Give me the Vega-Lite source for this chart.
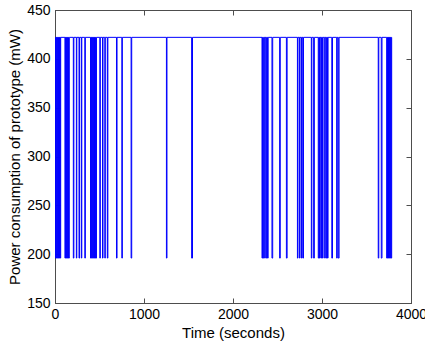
{
  "$schema": "https://vega.github.io/schema/vega-lite/v6.json",
  "width": 356,
  "height": 293,
  "autosize": "none",
  "padding": {"left": 55, "top": 10, "right": 14, "bottom": 40},
  "background": "white",
  "config": {
    "view": {"stroke": "#4d4d4d", "strokeWidth": 1},
    "font": "Liberation Sans",
    "axis": {
      "grid": false,
      "ticks": true,
      "domainColor": "#4d4d4d",
      "tickColor": "#4d4d4d",
      "tickSize": -5,
      "tickWidth": 1,
      "labelFont": "Liberation Sans",
      "labelFontSize": 14,
      "labelColor": "#000000",
      "titleFont": "Liberation Sans",
      "titleFontSize": 15,
      "titleFontWeight": "normal",
      "titleColor": "#000000"
    }
  },
  "data": {
    "values": [
      {"t": 0, "p": 196}, {"t": 5, "p": 422}, {"t": 10, "p": 196}, {"t": 15, "p": 422},
      {"t": 20, "p": 196}, {"t": 25, "p": 422}, {"t": 30, "p": 196}, {"t": 35, "p": 422},
      {"t": 40, "p": 196}, {"t": 45, "p": 422}, {"t": 50, "p": 196}, {"t": 55, "p": 422},
      {"t": 59, "p": 196}, {"t": 64, "p": 422},
      {"t": 112, "p": 196}, {"t": 117, "p": 422}, {"t": 122, "p": 196}, {"t": 127, "p": 422},
      {"t": 132, "p": 196}, {"t": 137, "p": 422}, {"t": 142, "p": 196}, {"t": 147, "p": 422},
      {"t": 152, "p": 196}, {"t": 161, "p": 422},
      {"t": 206, "p": 196}, {"t": 212, "p": 422},
      {"t": 240, "p": 196}, {"t": 245, "p": 422},
      {"t": 270, "p": 196}, {"t": 276, "p": 422},
      {"t": 296, "p": 196}, {"t": 301, "p": 422},
      {"t": 335, "p": 196}, {"t": 341, "p": 422},
      {"t": 399, "p": 196}, {"t": 404, "p": 422}, {"t": 409, "p": 196}, {"t": 414, "p": 422},
      {"t": 419, "p": 196}, {"t": 424, "p": 422}, {"t": 429, "p": 196}, {"t": 434, "p": 422},
      {"t": 439, "p": 196}, {"t": 444, "p": 422}, {"t": 449, "p": 196}, {"t": 454, "p": 422},
      {"t": 459, "p": 196}, {"t": 466, "p": 422},
      {"t": 504, "p": 196}, {"t": 509, "p": 422},
      {"t": 534, "p": 196}, {"t": 539, "p": 422},
      {"t": 560, "p": 196}, {"t": 565, "p": 422},
      {"t": 588, "p": 196}, {"t": 594, "p": 422},
      {"t": 691, "p": 196}, {"t": 697, "p": 422},
      {"t": 751, "p": 196}, {"t": 757, "p": 422},
      {"t": 855, "p": 196}, {"t": 862, "p": 422},
      {"t": 1252, "p": 196}, {"t": 1258, "p": 422},
      {"t": 1535, "p": 196}, {"t": 1545, "p": 422},
      {"t": 2326, "p": 196}, {"t": 2332, "p": 422}, {"t": 2340, "p": 196}, {"t": 2346, "p": 422},
      {"t": 2356, "p": 196}, {"t": 2362, "p": 422}, {"t": 2372, "p": 196}, {"t": 2378, "p": 422},
      {"t": 2388, "p": 196}, {"t": 2395, "p": 422},
      {"t": 2438, "p": 196}, {"t": 2446, "p": 422},
      {"t": 2524, "p": 196}, {"t": 2531, "p": 422},
      {"t": 2600, "p": 196}, {"t": 2608, "p": 422},
      {"t": 2724, "p": 196}, {"t": 2730, "p": 422}, {"t": 2748, "p": 196}, {"t": 2753, "p": 422},
      {"t": 2770, "p": 196}, {"t": 2776, "p": 422}, {"t": 2786, "p": 196}, {"t": 2792, "p": 422},
      {"t": 2880, "p": 196}, {"t": 2886, "p": 422}, {"t": 2906, "p": 196}, {"t": 2914, "p": 422},
      {"t": 2958, "p": 196}, {"t": 2964, "p": 422}, {"t": 2972, "p": 196}, {"t": 2978, "p": 422},
      {"t": 2988, "p": 196}, {"t": 2994, "p": 422}, {"t": 3006, "p": 196}, {"t": 3012, "p": 422},
      {"t": 3030, "p": 196}, {"t": 3036, "p": 422}, {"t": 3046, "p": 196}, {"t": 3052, "p": 422},
      {"t": 3062, "p": 196}, {"t": 3068, "p": 422},
      {"t": 3110, "p": 196}, {"t": 3118, "p": 422},
      {"t": 3165, "p": 196}, {"t": 3171, "p": 422}, {"t": 3183, "p": 196}, {"t": 3192, "p": 422},
      {"t": 3632, "p": 196}, {"t": 3638, "p": 422}, {"t": 3666, "p": 196}, {"t": 3674, "p": 422},
      {"t": 3727, "p": 196}, {"t": 3732, "p": 422}, {"t": 3737, "p": 196}, {"t": 3742, "p": 422},
      {"t": 3747, "p": 196}, {"t": 3752, "p": 422}, {"t": 3757, "p": 196}, {"t": 3762, "p": 422},
      {"t": 3767, "p": 196}, {"t": 3772, "p": 422}, {"t": 3777, "p": 196}, {"t": 3783, "p": 422},
      {"t": 3785, "p": 422}
    ]
  },
  "layer": [
    {
      "mark": {"type": "line", "interpolate": "step-after", "color": "#0000ff", "strokeWidth": 1, "clip": true},
      "encoding": {
        "x": {"field": "t", "type": "quantitative", "scale": {"domain": [0, 4000], "nice": false},
              "axis": {"title": "Time (seconds)", "format": "d", "values": [0, 1000, 2000, 3000, 4000], "labelPadding": 9, "titlePadding": 4, "labelFlush": false, "labelOverlap": false}},
        "y": {"field": "p", "type": "quantitative", "scale": {"domain": [150, 450], "nice": false, "zero": false},
              "axis": {"title": "Power consumption of prototype (mW)", "format": "d", "values": [150, 200, 250, 300, 350, 400, 450], "labelPadding": 10, "titlePadding": 4, "labelFlush": false, "labelOverlap": false}}
      }
    },
    {
      "mark": {"type": "line", "strokeOpacity": 0},
      "encoding": {
        "x": {"field": "t", "type": "quantitative",
              "axis": {"orient": "top", "labels": false, "title": null, "values": [0, 1000, 2000, 3000, 4000]}},
        "y": {"field": "p", "type": "quantitative",
              "axis": {"orient": "right", "labels": false, "title": null, "values": [150, 200, 250, 300, 350, 400, 450]}}
      }
    }
  ],
  "resolve": {"axis": {"x": "independent", "y": "independent"}}
}
